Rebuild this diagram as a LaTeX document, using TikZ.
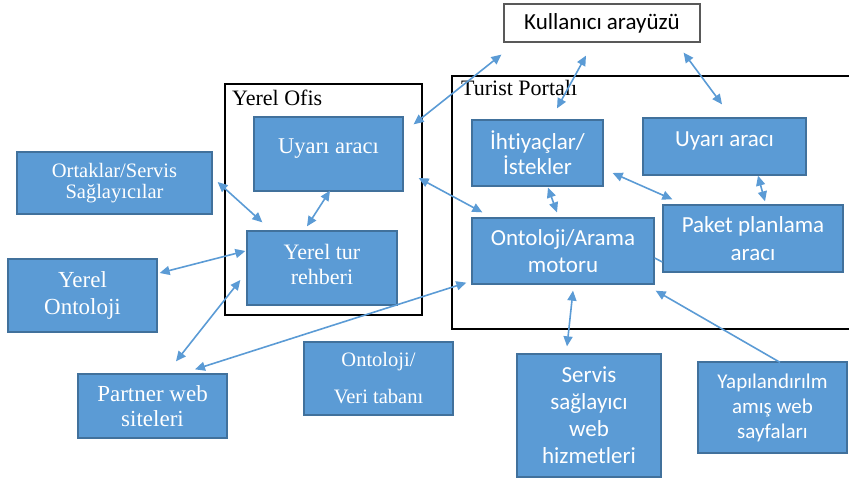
\documentclass[tikz,border=0pt]{standalone}
\usepackage{fontspec}
\setmainfont{Liberation Serif}
\newfontfamily\calibri[Ligatures=NoCommon]{Carlito}
\usetikzlibrary{arrows.meta}
\definecolor{boxblue}{HTML}{5B9BD5}
\definecolor{boxedge}{HTML}{41719C}
\definecolor{linkblue}{HTML}{5B9BD5}
\newcommand\setfs[2]{\fontsize{#1}{#2}\selectfont}
\tikzset{
  blk/.style 2 args={draw=boxedge, fill=boxblue, line width=1.3pt, text=white,
    align=center, inner sep=0pt, minimum width=#1pt, minimum height=#2pt},
  frame/.style={draw=black, line width=1.8pt},
  caption/.style={anchor=west, inner sep=0pt, font=\setfs{22}{25}},
  link/.style={draw=linkblue, line width=1.6pt, >={Triangle[length=10pt,width=9pt]}, <->},
  onelink/.style={draw=linkblue, line width=1.6pt, >={Triangle[length=10pt,width=9pt]}, ->},
}
\begin{document}
\begin{tikzpicture}[x=1pt, y=-1pt]
\useasboundingbox (0,0) rectangle (849,478);

% group frames
\draw[frame] (225,84) rectangle (422,315);
\draw[frame] (849,76) -- (452,76) -- (452,329) -- (849,329);
\node[caption] (ofislbl) at (232,98) {Yerel Ofis};
\node[caption] (portallbl) at (461,88) {Turist Portalı};

% user interface
\node[draw=gray!70!black, fill=white, line width=1.2pt, minimum width=196pt,
      minimum height=38pt, inner sep=0pt, font=\calibri\setfs{23}{27}]
      (kul) at (602,23) {Kullanıcı arayüzü};

% serif boxes
\node[blk={149}{74}, font=\setfs{22.5}{25}, text depth=16pt] (uyL) at (328.5,154) {Uyarı aracı};
\node[blk={195}{62}, font=\setfs{20.5}{21}] (ort) at (114.5,183) {Ortaklar/Servis\\Sağlayıcılar};
\node[blk={150}{74}, font=\setfs{22}{25}, text depth=8pt] (tur) at (322,268) {Yerel tur\\rehberi};
\node[blk={149}{73}, font=\setfs{23}{27}, text depth=4pt] (yont) at (82.5,295.5) {Yerel\\Ontoloji};
\node[blk={149}{64}, font=\setfs{23}{25}] (partner) at (152.5,406) {Partner web\\siteleri};
\node[blk={149}{73}, font=\setfs{20.5}{37}] (veri) at (378.5,378.5) {Ontoloji/\\Veri tabanı};

% sans boxes
\node[blk={131}{66}, font=\calibri\setfs{23}{25}] (iht) at (537.5,153) {İhtiyaçlar/\\İstekler};
\node[blk={163}{57}, font=\calibri\setfs{23}{25}, text depth=15pt] (uyR) at (724.5,146.5) {Uyarı aracı};
\node[blk={180}{67}, font=\calibri\setfs{23}{28}] (paket) at (753,238.5) {Paket planlama\\aracı};
\node[blk={182}{66}, font=\calibri\setfs{23}{27}] (arama) at (563,251) {Ontoloji/Arama\\motoru};
\node[blk={144}{123}, font=\calibri\setfs{23}{27}] (servis) at (589,415.5) {Servis\\sağlayıcı\\web\\hizmetleri};
\node[blk={149}{91}, font=\calibri\setfs{21}{25}] (yap) at (772.5,407.5) {Yapılandırılm\\amış web\\sayfaları};

% connectors
\draw[link] ([shift={(-2,12)}]kul.south west) -- ([shift={(10,8)}]uyL.north east);
\draw[link] ([shift={(-16,13)}]kul.south) -- ([shift={(19.5,-11)}]iht.north);
\draw[link] ([shift={(-17,10)}]kul.south east) -- ([shift={(-2.5,-13)}]uyR.north);
\draw[link] ([shift={(15,24)}]uyL.east) -- ([shift={(11,-5)}]arama.north west);
\draw[link] ([shift={(5,-1)}]ort.east) -- ([shift={(16,-8)}]tur.north west);
\draw[link] ([shift={(1.5,-1)}]uyL.south) -- ([shift={(-15,-4)}]tur.north);
\draw[link] ([shift={(2,-22.5)}]yont.east) -- ([shift={(-1,-17)}]tur.west);
\draw[link] ([shift={(23.5,-12)}]partner.north) -- ([shift={(-6,12)}]tur.west);
\draw[link] ([shift={(42.5,-4)}]partner.north) -- ([shift={(-5,-2)}]arama.south west);
\draw[link] ([shift={(10.5,1)}]iht.south) -- ([shift={(-6,-5)}]arama.north);
\draw[link] ([shift={(9,20)}]iht.east) -- ([shift={(10,-5)}]paket.north west);
\draw[link] ([shift={(33.5,0)}]uyR.south) -- ([shift={(12,-3)}]paket.north);
\draw[link] ([shift={(10,6)}]arama.south) -- ([shift={(-22,-7)}]servis.north);
\draw[onelink] ([shift={(7.5,1)}]yap.north) -- ([shift={(1,6)}]arama.south east);
\draw[draw=linkblue, line width=1.6pt] ([shift={(0,7)}]arama.east) -- ([shift={(0,23.5)}]paket.west);
\end{tikzpicture}
\end{document}
